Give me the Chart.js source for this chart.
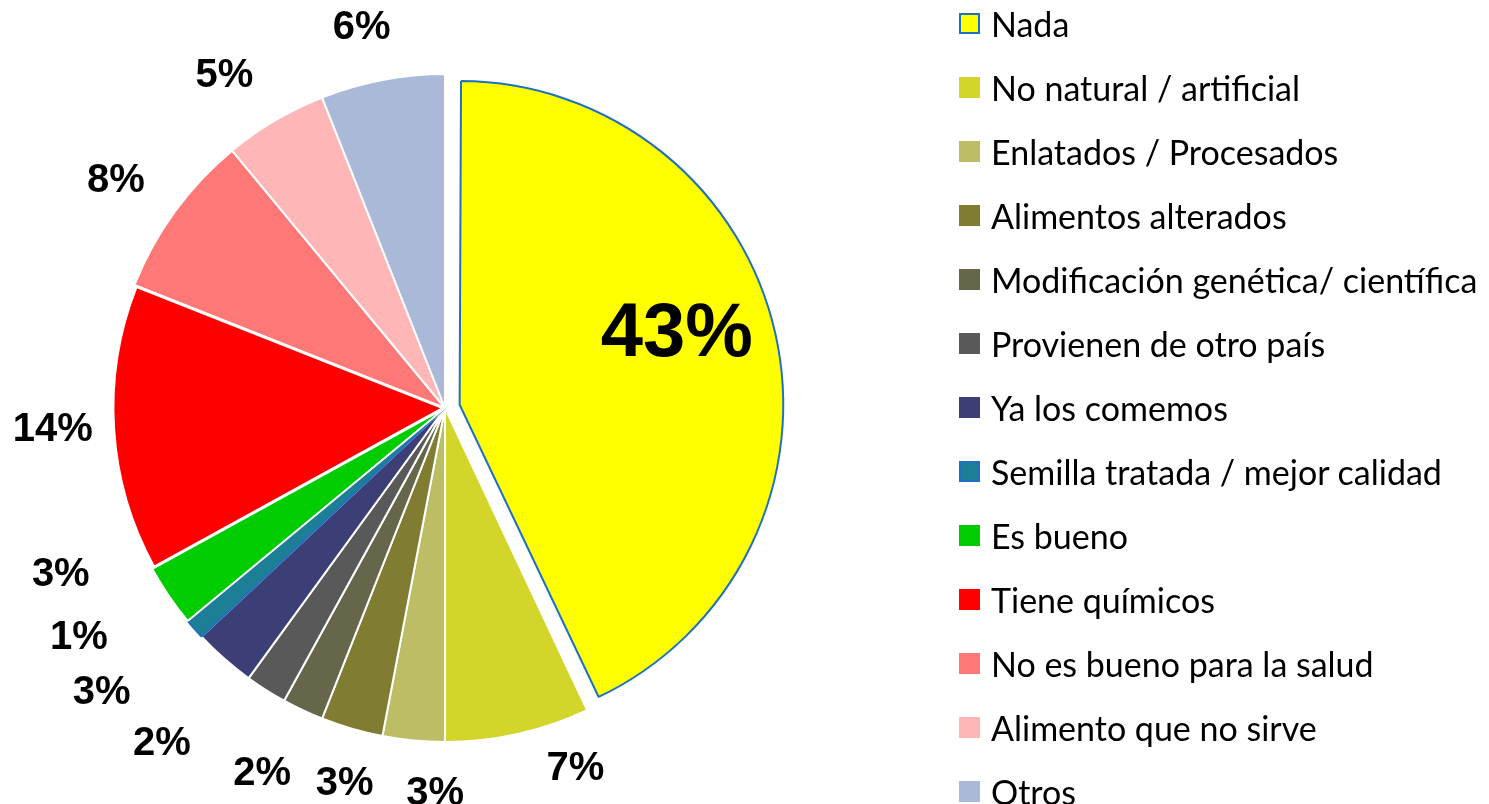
<!DOCTYPE html>
<html>
<head>
<meta charset="utf-8">
<script src="https://cdn.jsdelivr.net/npm/chart.js@4"></script>
<style>
  html, body { margin: 0; padding: 0; background: #fff; overflow: hidden; }
  #wrap { position: relative; width: 1489px; height: 804px; }
  #pie { position: absolute; left: 0; top: 0; }
  #legend { position: absolute; left: 959px; top: 0; font-family: Lato, "Open Sans", sans-serif; font-size: 34px; color: #000; }
  .item { position: absolute; left: 0; height: 40px; display: flex; align-items: center; white-space: nowrap; }
  .box { width: 21px; height: 21px; box-sizing: border-box; margin-right: 11px; }
</style>
</head>
<body>
<div id="wrap">
  <canvas id="pie" width="1489" height="804"></canvas>
  <div id="legend"></div>
</div>
<script>
const categories = [
    "Nada",
    "No natural / artificial",
    "Enlatados / Procesados",
    "Alimentos alterados",
    "Modificación genética/ científica",
    "Provienen de otro país",
    "Ya los comemos",
    "Semilla tratada / mejor calidad",
    "Es bueno",
    "Tiene químicos",
    "No es bueno para la salud",
    "Alimento que no sirve",
    "Otros"
];
const percents = [43, 7, 3, 3, 2, 2, 3, 1, 3, 14, 8, 5, 6];

const sliceColors = [
    "#FFFF00", "#D4D52B", "#BDBD66", "#807D32", "#66664A", "#595959",
    "#3C3F76", "#1C7F96", "#00CC00", "#FF0000", "#FF7878", "#FFB6B6", "#AAB9D7"
];
const edgeColors = sliceColors.map((c, i) => (i === 0 || i === 7) ? "#1F70C0" : "#FFFFFF");
// chart.js v4 moves an arc by offset/4 px (and grows it by the same)
const explode = percents.map((v, i) => i === 0 ? 60 : (i === 9 ? 10 : 0));
// exploded slices are drawn a bit smaller, like the original
const shrink = percents.map((v, i) => i === 0 ? 19 : (i === 9 ? 5.5 : 0));

// nudges for the percentage labels, px from the default outside position
const labelNudge = [
    [-3, -22], [45, -24], [27, -6], [9, -2], [-16, 9], [-73, 3],
    [-84, -11], [-72, -31], [-60, -55], [-1, -5], [-12, 1], [-21, 3], [-10, 3]
];

const shrinkExploded = {
    id: "shrinkExploded",
    afterDatasetsUpdate(chart) {
        chart.getDatasetMeta(0).data.forEach((arc, i) => {
            arc.outerRadius = arc.outerRadius - shrink[i];
        });
    }
};

const pctLabels = {
    id: "pctLabels",
    afterDatasetsDraw(chart) {
        const ctx = chart.ctx;
        const arcs = chart.getDatasetMeta(0).data;
        ctx.save();
        ctx.fillStyle = "#000";
        ctx.textAlign = "center";
        ctx.textBaseline = "middle";
        arcs.forEach((arc, i) => {
            const p = arc.getProps(["x", "y", "startAngle", "endAngle", "outerRadius"], true);
            const R = p.outerRadius + shrink[i];
            const mid = (p.startAngle + p.endAngle) / 2;
            let r, size;
            if (i === 0) {
                r = R * 0.72;
                size = 76;
            } else {
                r = R + 58;
                size = 40;
            }
            const x = p.x + Math.cos(mid) * r + labelNudge[i][0];
            const y = p.y + Math.sin(mid) * r + labelNudge[i][1];
            ctx.font = "bold " + size + "px 'Liberation Sans', Arial, sans-serif";
            ctx.fillText(percents[i] + "%", x, y + 2);
        });
        ctx.restore();
    }
};

new Chart(document.getElementById("pie").getContext("2d"), {
    type: "pie",
    data: {
        labels: categories,
        datasets: [{
            data: percents,
            backgroundColor: sliceColors,
            borderColor: edgeColors,
            borderWidth: 2,
            hoverBorderWidth: 2,
            offset: explode,
            hoverOffset: 0
        }]
    },
    options: {
        responsive: false,
        animation: false,
        events: [],
        layout: {
            padding: { top: 43, bottom: 31, left: 80, right: 679 }
        },
        plugins: {
            legend: { display: false },
            tooltip: { enabled: false }
        }
    },
    plugins: [shrinkExploded, pctLabels]
});

// legend on the right
const legend = document.getElementById("legend");
categories.forEach((name, i) => {
    const row = document.createElement("div");
    row.className = "item";
    row.style.top = (23 + 64 * i - 20) + "px";
    const box = document.createElement("span");
    box.className = "box";
    box.style.background = sliceColors[i];
    if (edgeColors[i] !== "#FFFFFF") box.style.border = "2px solid " + edgeColors[i];
    const txt = document.createElement("span");
    txt.textContent = name;
    row.appendChild(box);
    row.appendChild(txt);
    legend.appendChild(row);
});
</script>
</body>
</html>
